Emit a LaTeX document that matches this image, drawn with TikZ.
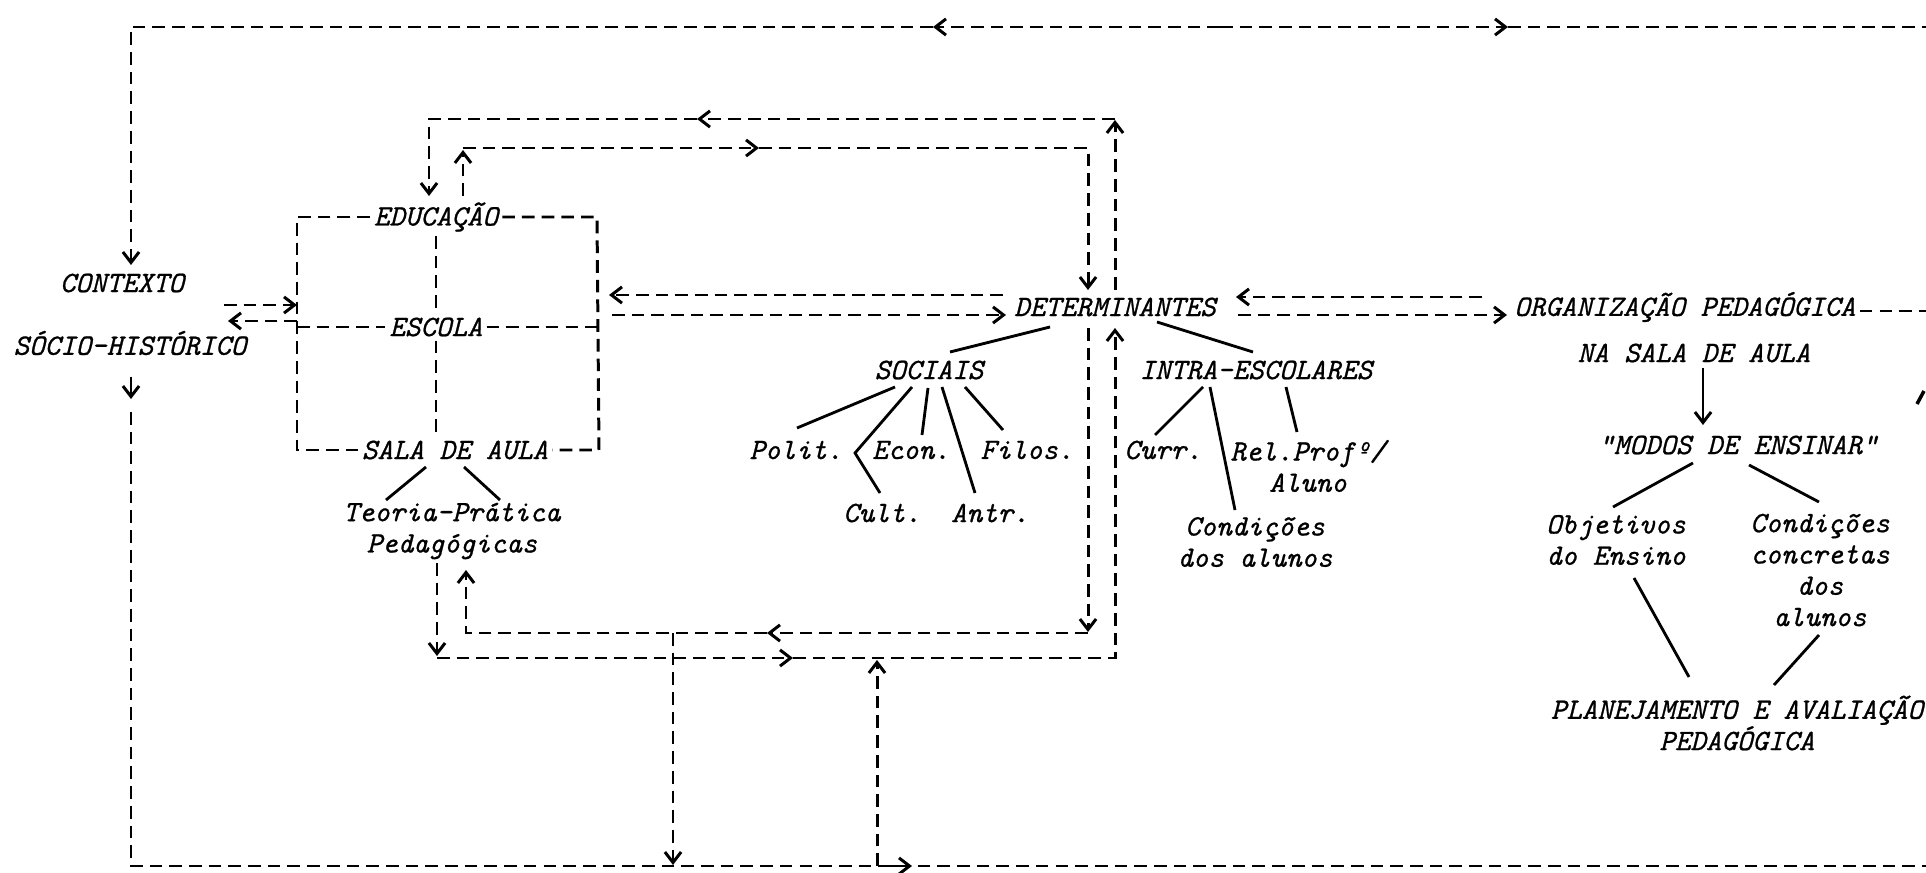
\documentclass[tikz,border=0pt]{standalone}
\usepackage{fontspec}
\usetikzlibrary{arrows.meta}
\newfontfamily\twfam{lmmono10-italic.otf}[FakeBold=0.8]
\newcommand{\twfont}{\twfam\fontsize{8.4}{8.9}\selectfont}
\tikzset{
  lbl/.style={font=\twfont, inner sep=1pt, align=center},
  dsh/.style={line width=0.85pt, dash pattern=on 3.6pt off 2pt},
  arr/.style={-{Straight Barb[length=3pt,width=4.6pt,line width=0.85pt]}},
  ln/.style={line width=0.8pt},
}
\begin{document}
\begin{tikzpicture}[x=0.01cm,y=-0.01cm]
\useasboundingbox (0,0) rectangle (1926,873);

% ---------- text nodes ----------
\node[lbl] (ctxa) at (122,283) {CONTEXTO};
\node[lbl] (ctxb) at (130,343) {SÓCIO-HISTÓRICO};
\node[lbl] (edu) at (436,217) {EDUCAÇÃO};
\node[lbl] (esc) at (436,327) {ESCOLA};
\node[lbl] (sala) at (455,450) {SALA DE AULA};
\node[lbl] (teo) at (452,531) {Teoria-Prática\\Pedagógicas};
\node[lbl] (det) at (1115,307) {DETERMINANTES};
\node[lbl] (soc) at (929,370) {SOCIAIS};
\node[lbl] (intra) at (1256,370) {INTRA-ESCOLARES};
\node[lbl] (polit) at (796,450) {Polit.};
\node[lbl] (econ) at (911,450) {Econ.};
\node[lbl] (filos) at (1027,450) {Filos.};
\node[lbl] (cult) at (882,513) {Cult.};
\node[lbl] (antr) at (990,513) {Antr.};
\node[lbl] (curr) at (1163,450) {Curr.};
\node[lbl] (rel) at (1308,466) {Rel.Profº/\\Aluno};
\node[lbl] (condi) at (1255,542) {Condições\\dos alunos};
\node[lbl] (org) at (1685,307) {ORGANIZAÇÃO PEDAGÓGICA};
\node[lbl] (nasala) at (1694,353) {NA SALA DE AULA};
\node[lbl] (modos) at (1738,445) {"MODOS DE ENSINAR"};
\node[lbl] (obj) at (1616,540) {Objetivos\\do Ensino};
\node[lbl] (cond) at (1820,570) {Condições\\concretas\\dos\\alunos};
\node[lbl] (plan) at (1737,723) {PLANEJAMENTO E AVALIAÇÃO\\PEDAGÓGICA};

% ---------- outer frame (contexto) ----------
\draw[dsh,arr] (1220,27) -- (933,27);
\draw[dsh,arr] (1220,27) -- (1508,27);
\draw[dsh] (1508,27) -- (1926,27);
\draw[dsh,arr] (933,27) -- (131,27) -- (131,265);
\draw[ln,arr] (131,377) -- (131,399);
\draw[dsh] (131,412) -- (131,866) -- (1926,866);
\draw[ln,arr] (890,866) -- (912,866);

% ---------- box educacao / escola / sala de aula ----------
\draw[dsh] (edu.west) -- (297,217) -- (297,450) -- (sala.west);
\draw[dsh] (edu.east) -- (597,217) -- (599,450) -- (sala.east);
\draw[dsh] (edu.south) -- (esc.north);
\draw[dsh] (esc.south) -- (esc.south |- sala.north);
\draw[dsh] (297,327) -- (esc.west);
\draw[dsh] (esc.east) -- (597,327);

% contexto <-> box
\draw[dsh,arr] (224,305) -- (297,305);
\draw[dsh,arr] (297,321) -- (228,321);

% box <-> determinantes
\draw[dsh,arr] (1003,295) -- (609,295);
\draw[dsh,arr] (612,315) -- (1006,315);

% determinantes <-> organizacao
\draw[dsh,arr] (1482,297) -- (1236,297);
\draw[dsh,arr] (1238,315) -- (1507,315);
\coordinate (orgend) at (1926,311);
\draw[dsh] (org.east |- orgend) -- (orgend);
\draw[line width=1pt] (1917,404) -- (1924,391);

% ---------- upper loops ----------
\draw[dsh,arr] (1115,290) -- (1115,120);
\draw[dsh,arr] (1115,119) -- (697,119);
\draw[dsh,arr] (697,119) -- (429,119) -- (429,196);
\draw[dsh,arr] (463,196) -- (463,150);
\draw[dsh,arr] (463,148) -- (759,148);
\draw[dsh,arr] (759,148) -- (1088,148) -- (1088,290);

% ---------- lower loops ----------
\draw[dsh,arr] (1088,328) -- (1088,632);
\draw[dsh,arr] (1088,633) -- (767,633);
\draw[dsh,arr] (767,633) -- (466,633) -- (466,570);
\draw[dsh,arr] (437,563) -- (437,656);
\draw[dsh,arr] (437,658) -- (793,658);
\draw[dsh,arr] (793,658) -- (1115,658) -- (1115,328);
\draw[dsh,arr] (673,633) -- (673,865);
\draw[dsh,arr] (877,866) -- (877,660);

% ---------- tree lines ----------
\draw[ln] (1050,327) -- (950,352);
\draw[ln] (1157,322) -- (1253,352);
\draw[ln] (895,387) -- (797,428);
\draw[ln] (912,387) -- (855,453) -- (880,493);
\draw[ln] (928,388) -- (922,435);
\draw[ln] (942,387) -- (975,493);
\draw[ln] (965,387) -- (1003,430);
\draw[ln] (1203,387) -- (1155,435);
\draw[ln] (1210,387) -- (1235,510);
\draw[ln] (1286,387) -- (1297,432);
\draw[ln] (426,467) -- (386,500);
\draw[ln] (464,467) -- (500,500);
\draw[ln,arr] (1703,368) -- (1703,425);
\draw[ln] (1693,463) -- (1613,507);
\draw[ln] (1749,465) -- (1819,502);
\draw[ln] (1634,578) -- (1689,677);
\draw[ln] (1819,635) -- (1774,685);
\end{tikzpicture}
\end{document}
